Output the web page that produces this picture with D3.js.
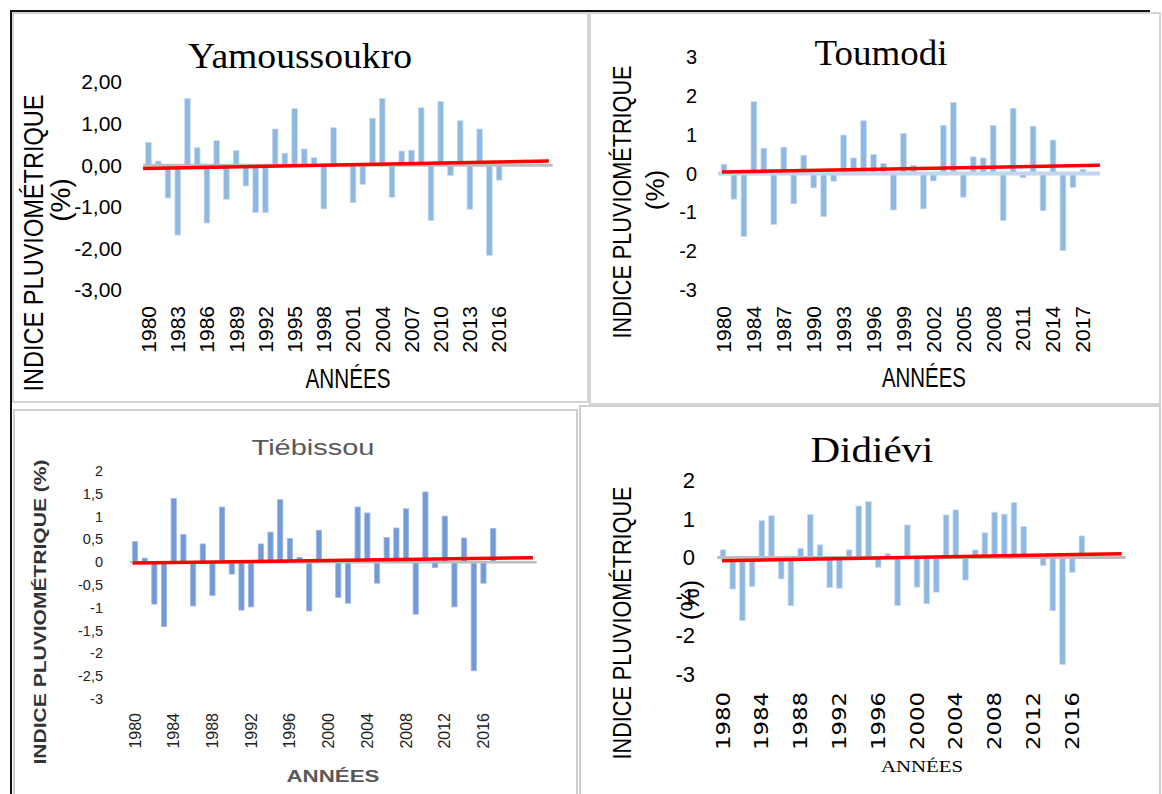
<!DOCTYPE html>
<html><head><meta charset="utf-8">
<script src="https://cdn.jsdelivr.net/npm/d3@7"></script>
<style>body{margin:0;background:#fff}</style>
</head><body>
<svg id="c" width="1162" height="794" xmlns="http://www.w3.org/2000/svg"></svg>
<script>
// ---------------- DATA ----------------
const yamYears = [1980,1981,1982,1983,1984,1985,1986,1987,1988,1989,1990,1991,1992,1993,1994,1995,1996,1997,1998,1999,2000,2001,2002,2003,2004,2005,2006,2007,2008,2009,2010,2011,2012,2013,2014,2015,2016];
const yamValues = [0.55,0.10,-0.79,-1.68,1.60,0.42,-1.39,0.59,-0.82,0.35,-0.50,-1.14,-1.14,0.87,0.29,1.36,0.39,0.18,-1.05,0.90,0.00,-0.90,-0.46,1.13,1.60,-0.77,0.34,0.36,1.38,-1.33,1.53,-0.25,1.07,-1.06,0.87,-2.17,-0.36];
const yamXTicks = [1980,1983,1986,1989,1992,1995,1998,2001,2004,2007,2010,2013,2016];
const yamYTicks = [2,1,0,-1,-2,-3];
const yamTrend = [-0.08, 0.10];

const touYears = [1980,1982,1983,1984,1985,1986,1987,1988,1989,1990,1991,1992,1993,1994,1995,1996,1997,1998,1999,2000,2001,2002,2003,2004,2005,2006,2007,2008,2009,2010,2011,2012,2013,2014,2015,2016,2017];
const touValues = [0.24,-0.66,-1.62,1.85,0.65,-1.31,0.68,-0.78,0.47,-0.37,-1.11,-0.20,0.99,0.40,1.36,0.49,0.26,-0.94,1.03,0.21,-0.91,-0.19,1.24,1.83,-0.61,0.43,0.40,1.24,-1.21,1.68,-0.11,1.22,-0.96,0.86,-1.98,-0.36,0.11];
const touXTicks = [1980,1984,1987,1990,1993,1996,1999,2002,2005,2008,2011,2014,2017];
const touYTicks = [3,2,1,0,-1,-2,-3];
const touTrend = [0.04, 0.21];

const tieYears = [1980,1981,1982,1983,1984,1985,1986,1987,1988,1989,1990,1991,1992,1993,1994,1995,1996,1997,1998,1999,2000,2001,2002,2003,2004,2005,2006,2007,2008,2009,2010,2011,2012,2013,2014,2015,2016,2017];
const tieValues = [0.45,0.09,-0.92,-1.41,1.40,0.61,-0.96,0.40,-0.73,1.21,-0.26,-1.05,-0.98,0.40,0.66,1.37,0.52,0.11,-1.07,0.70,0.00,-0.77,-0.90,1.21,1.08,-0.46,0.54,0.75,1.17,-1.14,1.54,-0.12,1.01,-0.98,0.53,-2.38,-0.46,0.74];
const tieXTicks = [1980,1984,1988,1992,1996,2000,2004,2008,2012,2016];
const tieYTicks = [2,1.5,1,0.5,0,-0.5,-1,-1.5,-2,-2.5,-3];
const tieTrend = [-0.02, 0.10];

const didYears = [1980,1981,1982,1983,1984,1985,1986,1987,1988,1989,1990,1991,1992,1993,1994,1995,1996,1997,1998,1999,2000,2001,2002,2003,2004,2005,2006,2007,2008,2009,2010,2011,2012,2013,2014,2015,2016,2017];
const didValues = [0.20,-0.81,-1.62,-0.74,0.95,1.08,-0.55,-1.24,0.24,1.11,0.33,-0.77,-0.79,0.20,1.33,1.44,-0.25,0.10,-1.24,0.84,-0.76,-1.19,-0.89,1.10,1.23,-0.58,0.20,0.64,1.17,1.12,1.42,0.80,0.00,-0.20,-1.37,-2.75,-0.38,0.56];
const didXTicks = [1980,1984,1988,1992,1996,2000,2004,2008,2012,2016];
const didYTicks = [2,1,0,-1,-2,-3];
const didTrend = [-0.08, 0.10];

// ---------------- LAYOUT ----------------
const svg = d3.select('#c');
const NARROW = "'Liberation Sans Narrow','Arial Narrow','Liberation Sans',sans-serif";
const SANS = "'Liberation Sans',Arial,sans-serif";
const SERIF = "'Liberation Serif','Times New Roman',serif";

// frames
const frames = svg.append('g');
frames.append('rect').attr('x',13).attr('y',13).attr('width',575).attr('height',389).attr('fill','none').attr('stroke','#d4d4d4').attr('stroke-width',2);
frames.append('rect').attr('x',590).attr('y',13).attr('width',570).attr('height',391).attr('fill','none').attr('stroke','#d4d4d4').attr('stroke-width',2);
frames.append('rect').attr('x',14).attr('y',410).attr('width',563).attr('height',390).attr('fill','none').attr('stroke','#cfcfcf').attr('stroke-width',2);
frames.append('rect').attr('x',580).attr('y',406).attr('width',580).attr('height',394).attr('fill','none').attr('stroke','#cfcfcf').attr('stroke-width',2);
frames.append('line').attr('x1',10).attr('x2',1150).attr('y1',11).attr('y2',11).attr('stroke','#111').attr('stroke-width',2);
frames.append('line').attr('x1',11).attr('x2',11).attr('y1',10).attr('y2',794).attr('stroke','#111').attr('stroke-width',2);

function panel(cfg){
  const g = svg.append('g');
  const n = cfg.years.length;
  const x = d3.scaleBand().domain(cfg.years)
      .range([cfg.c0 - cfg.step/2, cfg.c0 - cfg.step/2 + n*cfg.step]).paddingInner(cfg.pad).paddingOuter(cfg.pad/2);
  const xi = d3.scaleLinear().domain([0, n-1]).range([x(cfg.years[0]) + x.bandwidth()/2, x(cfg.years[n-1]) + x.bandwidth()/2]);
  const y = d3.scaleLinear().domain(cfg.ydom).range(cfg.yrange);

  // bars
  g.selectAll('rect.bar').data(cfg.values.map((v,i)=>({yr:cfg.years[i], v})))
    .join('rect').attr('class','bar')
    .attr('x', d=>x(d.yr)).attr('width', x.bandwidth())
    .attr('y', d=>y(Math.max(0,d.v))).attr('height', d=>Math.abs(y(d.v)-y(0)))
    .attr('fill', cfg.barColor).attr('stroke', cfg.barStroke).attr('stroke-width', 0.8);

  // zero axis line
  g.append('line').attr('x1', xi(cfg.axisExt[0])).attr('x2', xi(cfg.axisExt[1]))
    .attr('y1', y(0)).attr('y2', y(0)).attr('stroke', cfg.axisColor).attr('stroke-width', cfg.axisW);

  // trend
  const tl = d3.line().x(d=>xi(d[0])).y(d=>y(d[1]));
  g.append('path').attr('d', tl([[cfg.trendExt[0], cfg.trend[0]],[cfg.trendExt[1], cfg.trend[1]]]))
    .attr('stroke','#ff0000').attr('stroke-width',3.5).attr('fill','none');

  // y tick labels
  g.selectAll('text.yt').data(cfg.yticks).join('text').attr('class','yt')
    .attr('x', cfg.ytX).attr('y', d=>y(d)).attr('dy','0.35em').attr('text-anchor','end')
    .attr('font-family', cfg.ytFont).attr('font-size', cfg.ytSize).attr('fill', cfg.ytColor||'#000')
    .text(cfg.ytFmt);

  // x tick labels (rotated)
  g.selectAll('text.xt').data(cfg.xticks).join('text').attr('class','xt')
    .attr('transform', d=>`translate(${x(d)+x.bandwidth()/2},${cfg.xtTop}) rotate(-90)`)
    .attr('dy','0.35em').attr('text-anchor','end')
    .attr('font-family', cfg.xtFont).attr('font-size', cfg.xtSize).attr('fill', cfg.xtColor||'#000')
    .each(function(){ if(cfg.xtLen) d3.select(this).attr('textLength',cfg.xtLen).attr('lengthAdjust','spacingAndGlyphs'); })
    .text(d=>d);

  // texts
  cfg.texts.forEach(t=>{
    const el = g.append('text').attr('text-anchor','middle')
      .attr('font-family', t.font).attr('font-size', t.size).attr('fill', t.color||'#000')
      .attr('font-weight', t.weight||'normal');
    if(t.rot){ el.attr('transform', `translate(${t.x},${t.y}) rotate(-90)`).attr('dy','0.35em'); }
    else { el.attr('x', t.x).attr('y', t.y); }
    if(t.len) el.attr('textLength', t.len).attr('lengthAdjust','spacingAndGlyphs');
    el.text(t.text);
  });
}

const comma2 = d=>d3.format('.2f')(d).replace('.',',').replace('−','-');
const commaG = d=>String(d).replace('.',',');

panel({years:yamYears, values:yamValues, xticks:yamXTicks, yticks:yamYTicks, trend:yamTrend,
  c0:148.5, step:9.74, pad:0.42, ydom:[-3,2], yrange:[290,82],
  barColor:'#8fb8e1', barStroke:'#c9dcf1', axisColor:'#bdbdbd', axisW:3,
  axisExt:[-0.55,41.5], trendExt:[-0.56,41.1],
  ytX:122, ytFont:SANS, ytSize:21, ytFmt:comma2,
  xtTop:306, xtFont:SANS, xtSize:21,
  texts:[
    {text:'Yamoussoukro', x:300, y:68, font:SERIF, size:36, len:224},
    {text:'INDICE PLUVIOMÉTRIQUE', x:33, y:243, rot:true, font:NARROW, size:28, len:297},
    {text:'(%)', x:60, y:200, rot:true, font:NARROW, size:28},
    {text:'ANNÉES', x:348, y:388, font:NARROW, size:27, len:85}
  ]});

panel({years:touYears, values:touValues, xticks:touXTicks, yticks:touYTicks, trend:touTrend,
  c0:724, step:9.97, pad:0.42, ydom:[-3,3], yrange:[290,57],
  barColor:'#8fb8e1', barStroke:'#c9dcf1', axisColor:'#c2d6ee', axisW:4,
  axisExt:[-0.6,37.7], trendExt:[-0.2,37.7],
  ytX:697, ytFont:SANS, ytSize:20, ytFmt:d=>String(d),
  xtTop:306, xtFont:SANS, xtSize:21,
  texts:[
    {text:'Toumodi', x:881, y:65, font:SERIF, size:36, len:133},
    {text:'INDICE PLUVIOMÉTRIQUE', x:622, y:202, rot:true, font:NARROW, size:26, len:273},
    {text:'(%)', x:655, y:190, rot:true, font:NARROW, size:26},
    {text:'ANNÉES', x:924, y:387, font:NARROW, size:27, len:84}
  ]});

panel({years:tieYears, values:tieValues, xticks:tieXTicks, yticks:tieYTicks, trend:tieTrend,
  c0:135, step:9.68, pad:0.46, ydom:[-3,2], yrange:[699,471],
  barColor:'#7399d6', barStroke:'#9fb9e3', axisColor:'#bdbdbd', axisW:2.5,
  axisExt:[-0.5,41.5], trendExt:[-0.24,41.1],
  ytX:103, ytFont:SANS, ytSize:14.5, ytFmt:commaG, ytColor:'#222',
  xtTop:713, xtFont:SANS, xtSize:16, xtColor:'#222',
  texts:[
    {text:'Tiébissou', x:313, y:455, font:SANS, size:22, color:'#595959', len:123},
    {text:'INDICE PLUVIOMÉTRIQUE (%)', x:40, y:612, rot:true, font:SANS, size:17, color:'#333', weight:'bold', len:305},
    {text:'ANNÉES', x:333, y:782, font:SANS, size:17, color:'#595959', weight:'bold', len:93}
  ]});

panel({years:didYears, values:didValues, xticks:didXTicks, yticks:didYTicks, trend:didTrend,
  c0:723, step:9.70, pad:0.42, ydom:[-3,2], yrange:[674,480],
  barColor:'#8fb8e1', barStroke:'#c9dcf1', axisColor:'#bdbdbd', axisW:3,
  axisExt:[-0.6,41.5], trendExt:[-0.1,41.1],
  ytX:695, ytFont:NARROW, ytSize:22, ytFmt:d=>String(d),
  xtTop:692, xtFont:"'DejaVu Sans',Verdana,sans-serif", xtSize:19, xtLen:58,
  texts:[
    {text:'Didiévi', x:872, y:462, font:SERIF, size:36, len:123},
    {text:'INDICE PLUVIOMÉTRIQUE', x:622, y:623, rot:true, font:NARROW, size:26, len:273},
    {text:'(%)', x:690, y:600, rot:true, font:NARROW, size:26},
    {text:'ANNÉES', x:922, y:772, font:SERIF, size:17, len:82}
  ]});
</script>
</body></html>
